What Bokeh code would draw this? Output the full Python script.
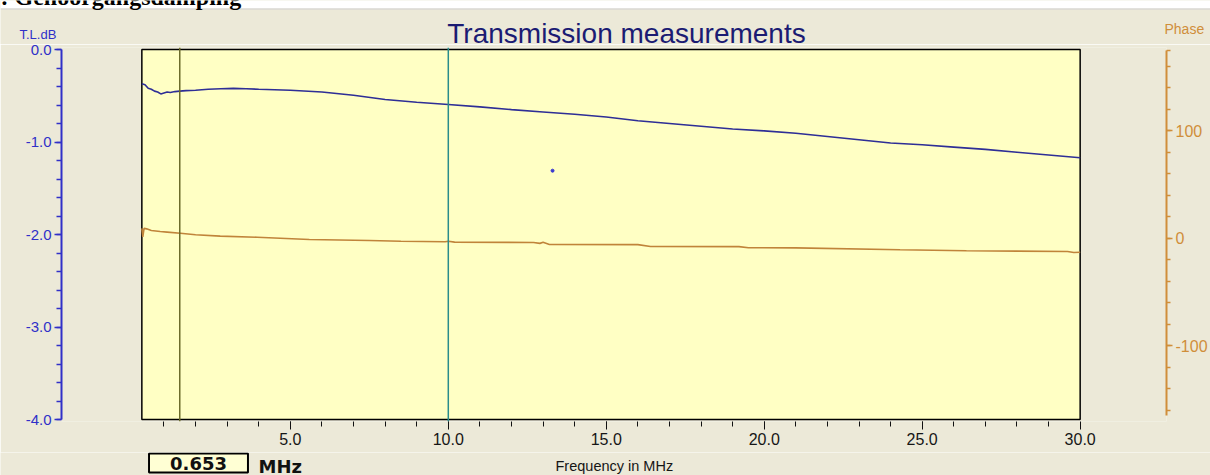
from bokeh.plotting import figure
from bokeh.layouts import column
from bokeh.models import Range1d, LinearAxis, FixedTicker, PrintfTickFormatter, Span, Label, Plot
from bokeh.embed import file_html
from bokeh.resources import INLINE

# ---------------- data ----------------
tl_freq_mhz = [0.30, 0.40, 0.50, 0.60, 0.70, 0.80, 0.90, 1.00, 1.10, 1.20, 1.35, 1.50,
               1.70, 2.00, 2.40, 2.80, 3.20, 3.60, 4.00, 5.00, 6.00, 7.00, 8.00, 9.00,
               10.0, 11.0, 12.0, 13.0, 14.0, 15.0, 16.0, 17.0, 18.0, 19.0, 20.0, 21.0,
               22.0, 23.0, 24.0, 25.0, 26.0, 27.0, 28.0, 29.0, 30.0]
tl_db = [-0.37, -0.38, -0.42, -0.43, -0.45, -0.46, -0.48, -0.47, -0.46, -0.465, -0.455, -0.45,
         -0.445, -0.44, -0.43, -0.425, -0.42, -0.425, -0.43, -0.44, -0.46, -0.495, -0.54, -0.57,
         -0.595, -0.62, -0.65, -0.675, -0.70, -0.73, -0.77, -0.80, -0.83, -0.86, -0.88, -0.905,
         -0.94, -0.975, -1.01, -1.03, -1.055, -1.08, -1.11, -1.14, -1.17]

phase_freq_mhz = [0.30, 0.33, 0.37, 0.45, 0.60, 0.88, 1.10, 1.52, 2.00, 2.78, 3.95, 5.60,
                  7.50, 8.50, 9.90, 10.0, 10.2, 12.7, 12.9, 13.0, 13.2, 16.0, 16.4, 19.2,
                  19.5, 21.0, 24.3, 26.4, 29.6, 29.8, 30.0]
phase_deg = [9, 1, 9, 8.5, 7, 6, 5.5, 4.4, 3, 1.7, 0.7, -1.4,
             -2.3, -3.0, -3.5, -3.0, -3.8, -4.2, -5.0, -4.0, -6.0, -6.2, -7.9, -8.0,
             -9.1, -9.2, -11.0, -11.8, -12.6, -13.5, -13.2]

stray_freq_mhz = [13.3]
stray_db = [-1.31]

marker_freq_mhz = [1.5, 10.0]
marker_colors = ["#6B6B2A", "#2A8C8C"]

sweep_start_mhz, sweep_stop_mhz = 0.3, 30.0
tl_min_db, tl_max_db = -4.0, 0.0

x_major_ticks = [5, 10, 15, 20, 25, 30]
x_minor_ticks = list(range(1, 30))
tl_major_ticks = [-4.0, -3.0, -2.0, -1.0, 0.0]
tl_minor_ticks = [round(-4.0 + 0.2 * i, 1) for i in range(21)]
phase_major_ticks = [-100, 0, 100]
phase_axis_bounds = (-165, 174)
phase_minor_ticks = list(range(-160, 180, 20)) + [phase_axis_bounds[1]]

cursor_readout = "0.653"
title_text = "Transmission measurements"
header_text = ": Gehoorgangsdamping"

# ---------------- layout (page pixel geometry) ----------------
WIDTH = 1210
TOP_H, MAIN_H, BOT_H = 44, 408, 23
X0_PX, PX_PER_MHZ = 132.0, 31.65
DB0_PX, PX_PER_DB = 49.0, 92.5
PH0_PX, PX_PER_DEG = 237.5, 1.075
FL, FR, FT, FB = 61, 1168, 47, 421
HAS_FRAME_ALIGN = "frame_align" in Plot.properties()


def px2f(px):
    return (px - X0_PX) / PX_PER_MHZ


def py2db(py):
    return -(py - DB0_PX) / PX_PER_DB


BEIGE = "#ECE9D8"
YELLOW = "#FFFFC4"
BLUE_AX = "#3030C8"
BLUE_LINE = "#2E2E96"
ORANGE_AX = "#D08E3A"
ORANGE_LINE = "#C0843A"
FONT = "Liberation Sans"


def text_strip(height, y_top):
    f = figure(width=WIDTH, height=height, output_backend="svg", toolbar_location=None,
               title=None, x_axis_type=None, y_axis_type=None,
               x_range=Range1d(0, WIDTH), y_range=Range1d(y_top + height, y_top),
               min_border=0, min_border_left=0, min_border_right=0,
               min_border_top=0, min_border_bottom=0)
    if HAS_FRAME_ALIGN:
        f.frame_align = False
    f.background_fill_color = BEIGE
    f.border_fill_color = BEIGE
    f.outline_line_color = None
    f.xgrid.visible = False
    f.ygrid.visible = False
    return f


def top_of(baseline_px, size_px, ascent=0.905):
    return baseline_px - ascent * size_px


# ---------------- top strip: header + titles ----------------
top = text_strip(TOP_H, 0)
top.quad(left=[0], right=[WIDTH], top=[0], bottom=[8], fill_color="#FFFFFF", line_color=None)
top.add_layout(Span(location=8.5, dimension="width", line_color="#CFCFCF", line_width=1))
top.add_layout(Label(x=0, y=top_of(5, 24, 0.891), text=header_text, text_align="left",
                     text_baseline="top", text_font="Liberation Serif", text_font_style="bold",
                     text_font_size="24px", text_color="#000000"))
top.add_layout(Label(x=626, y=top_of(43, 28), text=title_text, text_align="center",
                     text_baseline="top", text_font=FONT, text_font_size="28px",
                     text_color="#1B1B73"))
top.add_layout(Label(x=19, y=top_of(38, 13), text="T.L.dB", text_align="left",
                     text_baseline="top", text_font=FONT, text_font_size="13px",
                     text_color=BLUE_AX))
top.add_layout(Label(x=1164, y=top_of(33, 14), text="Phase", text_align="left",
                     text_baseline="top", text_font=FONT, text_font_size="14px",
                     text_color=ORANGE_AX))

# ---------------- main chart ----------------
p = figure(width=WIDTH, height=MAIN_H, output_backend="svg", toolbar_location=None, title=None,
           x_range=Range1d(px2f(FL), px2f(FR)),
           y_range=Range1d(py2db(FB), py2db(FT)),
           min_border_left=FL, min_border_right=WIDTH - FR,
           min_border_top=FT - TOP_H, min_border_bottom=TOP_H + MAIN_H - FB)
p.extra_y_ranges = {"phase": Range1d(-(FB - PH0_PX) / PX_PER_DEG, (PH0_PX - FT) / PX_PER_DEG)}

p.background_fill_color = BEIGE
p.border_fill_color = BEIGE
p.outline_line_color = None
p.xgrid.visible = False
p.ygrid.visible = False

p.quad(left=[sweep_start_mhz], right=[sweep_stop_mhz], bottom=[tl_min_db], top=[tl_max_db],
       fill_color=YELLOW, line_color="#000000", line_width=1.5)

p.line(tl_freq_mhz, tl_db, line_color=BLUE_LINE, line_width=1.6)
p.line(phase_freq_mhz, phase_deg, y_range_name="phase", line_color=ORANGE_LINE, line_width=1.6)
p.scatter(stray_freq_mhz, stray_db, size=3, color="#3A3AD0")

for f, c in zip(marker_freq_mhz, marker_colors):
    p.add_layout(Span(location=f, dimension="height", line_color=c, line_width=1.5))

xa = p.xaxis[0]
xa.ticker = FixedTicker(ticks=x_major_ticks, minor_ticks=x_minor_ticks)
xa.formatter = PrintfTickFormatter(format="%.1f")
xa.axis_line_color = None
xa.major_tick_line_color = "#111111"
xa.minor_tick_line_color = "#111111"
xa.major_tick_in = 0
xa.major_tick_out = 8
xa.minor_tick_in = 0
xa.minor_tick_out = 5
xa.major_label_text_font = FONT
xa.major_label_text_font_size = "16px"
xa.major_label_text_color = "#161616"
xa.major_label_standoff = 3

ya = p.yaxis[0]
ya.ticker = FixedTicker(ticks=tl_major_ticks, minor_ticks=tl_minor_ticks)
ya.formatter = PrintfTickFormatter(format="%.1f")
ya.bounds = (tl_min_db, tl_max_db)
ya.axis_line_color = BLUE_AX
ya.axis_line_width = 2
ya.major_tick_line_color = BLUE_AX
ya.minor_tick_line_color = BLUE_AX
ya.major_tick_line_width = 1.5
ya.minor_tick_line_width = 1.5
ya.major_tick_in = 0
ya.major_tick_out = 7
ya.minor_tick_in = 0
ya.minor_tick_out = 5
ya.major_label_text_font = FONT
ya.major_label_text_font_size = "15px"
ya.major_label_text_color = BLUE_AX
ya.major_label_standoff = 3

ra = LinearAxis(y_range_name="phase")
ra.ticker = FixedTicker(ticks=phase_major_ticks, minor_ticks=phase_minor_ticks)
ra.formatter = PrintfTickFormatter(format="%d")
ra.bounds = phase_axis_bounds
ra.axis_line_color = ORANGE_AX
ra.axis_line_width = 2
ra.major_tick_line_color = ORANGE_AX
ra.minor_tick_line_color = ORANGE_AX
ra.major_tick_line_width = 1.5
ra.minor_tick_line_width = 1.5
ra.major_tick_in = 0
ra.major_tick_out = 6
ra.minor_tick_in = 0
ra.minor_tick_out = 4
ra.major_label_text_font = FONT
ra.major_label_text_font_size = "16px"
ra.major_label_text_color = ORANGE_AX
ra.major_label_standoff = 3
p.add_layout(ra, "right")

# ---------------- bottom strip: cursor readout + axis caption ----------------
bot = text_strip(BOT_H, TOP_H + MAIN_H)
bot.add_layout(Label(x=198, y=453, text=cursor_readout, text_align="center",
                     text_baseline="top", text_font="DejaVu Sans", text_font_style="bold",
                     text_font_size="18px", text_color="#111111",
                     background_fill_color="#FFFFD4", border_line_color="#000000",
                     border_line_width=2, padding=(21, 3)))
bot.add_layout(Label(x=258, y=455, text="MHz", text_align="left", text_baseline="top",
                     text_font="DejaVu Sans", text_font_style="bold",
                     text_font_size="18px", text_color="#111111"))
bot.add_layout(Label(x=555, y=457, text="Frequency in MHz", text_align="left",
                     text_baseline="top", text_font=FONT, text_font_size="14.5px",
                     text_color="#161616"))

layout = column(top, p, bot, spacing=0)
open("out.html", "w").write(file_html(layout, INLINE))
